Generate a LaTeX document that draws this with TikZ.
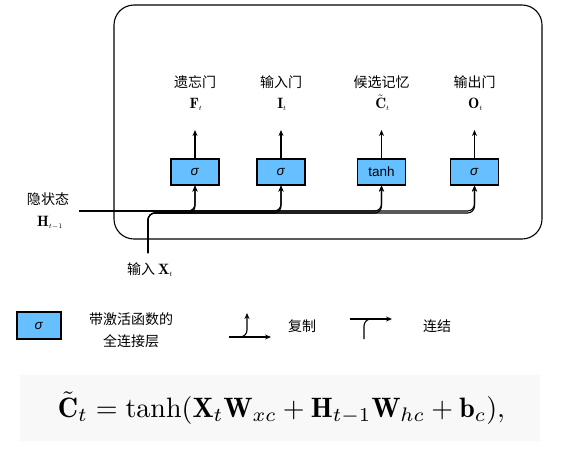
\documentclass[tikz,border=0pt]{standalone}
\usepackage{amsmath}
\usepackage{graphicx}
\usepackage{fontspec}
\newfontfamily\cjk{Noto Sans CJK SC}
\newfontfamily\arial{Liberation Sans}
\usetikzlibrary{arrows.meta}
\definecolor{gateblue}{RGB}{102,191,255}
\definecolor{formbg}{RGB}{248,248,248}
\newcommand{\sbt}[1]{_{\scriptscriptstyle #1}}
\begin{document}
\begin{tikzpicture}[x=1pt,y=-1pt,
  gate/.style={draw=black, line width=1.1pt, fill=gateblue, minimum width=48pt, minimum height=26pt, inner sep=0pt, font=\arial\fontsize{13.5}{14}\selectfont},
  lbl/.style={font=\cjk\fontsize{14}{16}\selectfont, inner sep=0pt},
  mlbl/.style={font=\fontsize{15}{17}\selectfont, inner sep=0pt},
  conn/.style={line width=1.1pt, -{Stealth[length=6pt,width=5pt]}, rounded corners=7pt},
  plain/.style={line width=1.1pt, rounded corners=7pt}]
\useasboundingbox (0,0) rectangle (575,458);
% outer cell
\node (cell) [draw, line width=1.1pt, rounded corners=20pt, minimum width=428pt, minimum height=234pt, inner sep=0pt] at (328,122) {};
% gates
\node[gate] (g1) at (195,172) {\textit{σ}};
\node[gate] (g2) at (281,172) {\textit{σ}};
\node[gate] (g3) at (381.5,172) {tanh};
\node[gate] (g4) at (474.5,172) {\textit{σ}};
% outputs
\foreach \i/\x in {1/195,2/281,3/381.5,4/474.5}{
  \coordinate (o\i) at (\x,130);
  \draw[conn] (g\i.north) -- (o\i);
}
\node[lbl] (t1) at (195,82) {遗忘门};
\node[lbl] (t2) at (281,82) {输入门};
\node[lbl] (t3) at (381.5,82) {候选记忆};
\node[lbl] (t4) at (474.5,82) {输出门};
\node[mlbl] (m1) at (196,104) {$\mathbf{F}\sbt{t}$};
\node[mlbl] (m2) at (282,104) {$\mathbf{I}\sbt{t}$};
\node[mlbl] (m3) at (382.5,103) {$\tilde{\mathbf{C}}\sbt{t}$};
\node[mlbl] (m4) at (475.5,104) {$\mathbf{O}\sbt{t}$};
% hidden state and input lines
\coordinate (hin) at (79,211);
\coordinate (xin) at (148,253);
\coordinate (xlev) at (0,213);
\foreach \i in {1,2,3,4}{
  \draw[conn] (hin) -| (g\i.south);
  \draw[conn] (xin) |- (g\i.south |- xlev) -- (g\i.south);
}
\node[lbl] (hl1) at (48,199) {隐状态};
\node[mlbl] (hl2) at (50,223) {$\mathbf{H}\sbt{t-1}$};
\node[lbl] (xl) at (150,270) {输入\ {\fontsize{15}{17}\selectfont$\mathbf{X}\sbt{t}$}};
% legend
\node[gate, minimum width=44pt, minimum height=27pt] (lg) at (39,325.5) {\textit{σ}};
\node[lbl] (lt1) at (131,319) {带激活函数的};
\node[lbl] (lt2) at (131,341) {全连接层};
\coordinate (ca) at (229,337);
\coordinate (cb) at (271,337);
\coordinate (cc) at (239,337);
\coordinate (cd) at (247,313);
\draw[conn] (ca) -- (cb);
\draw[conn] (cc) -| (cd);
\node[lbl] (lt3) at (302,326) {复制};
\coordinate (ka) at (350,319);
\coordinate (kb) at (392,319);
\coordinate (kc) at (364,339);
\coordinate (kd) at (376,319);
\draw[conn] (ka) -- (kb);
\draw[plain] (kc) |- (kd);
\node[lbl] (lt4) at (437,326) {连结};
% formula
\node[fill=formbg, minimum width=520pt, minimum height=66pt, inner sep=0pt] (fbg) at (280,408) {};
\node[inner sep=0pt] (f) at (281.5,408) {\resizebox{447pt}{!}{$\tilde{\mathbf{C}}_t = \tanh(\mathbf{X}_t\mathbf{W}_{xc} + \mathbf{H}_{t-1}\mathbf{W}_{hc} + \mathbf{b}_c),$}};
\end{tikzpicture}
\end{document}
